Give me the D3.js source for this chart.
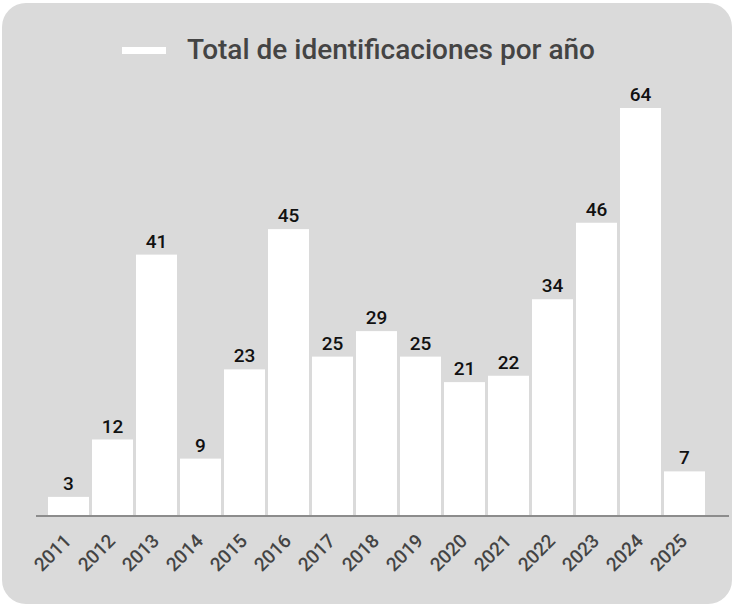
<!DOCTYPE html>
<html>
<head>
<meta charset="utf-8">
<script src="https://cdn.jsdelivr.net/npm/d3@7"></script>
<style>
  body { margin: 0; background: #ffffff; }
  text { font-family: Roboto, "Noto Sans", sans-serif; }
</style>
</head>
<body>
<div class="content"></div>
<script>
// data
var years = ["2011", "2012", "2013", "2014", "2015", "2016", "2017", "2018",
             "2019", "2020", "2021", "2022", "2023", "2024", "2025"];
var counts = [3, 12, 41, 9, 23, 45, 25, 29, 25, 21, 22, 34, 46, 64, 7];
var seriesName = "Total de identificaciones por año";

var width = 733, height = 604;

var svg = d3.select(".content")
    .append("svg")
    .attr("width", width)
    .attr("height", height);

// card background
svg.append("rect")
    .attr("x", 2)
    .attr("y", 3)
    .attr("width", 730)
    .attr("height", 601)
    .attr("rx", 24)
    .attr("fill", "#dadada");

var data = years.map(function (d, i) { return {year: d, count: counts[i]}; });

// scales
var x = d3.scaleBand()
    .domain(years)
    .range([46.5, 706.5])
    .paddingInner(3 / 44)
    .paddingOuter(3 / 88);

var y = d3.scaleLinear()
    .domain([0, 64])
    .range([516, 108]);

// bars
svg.selectAll(".bar")
    .data(data)
    .enter()
    .append("rect")
    .attr("class", "bar")
    .attr("x", function (d) { return x(d.year); })
    .attr("y", function (d) { return y(d.count); })
    .attr("width", x.bandwidth())
    .attr("height", function (d) { return y(0) - y(d.count); })
    .attr("fill", "#ffffff");

// value labels
svg.selectAll(".val")
    .data(data)
    .enter()
    .append("text")
    .attr("class", "val")
    .attr("x", function (d) { return x(d.year) + x.bandwidth() / 2; })
    .attr("y", function (d) { return y(d.count) - 7; })
    .attr("text-anchor", "middle")
    .style("font-size", "19px")
    .style("font-weight", "500")
    .attr("fill", "#111111")
    .text(function (d) { return d.count; });

// x axis
var xAxis = svg.append("g")
    .attr("transform", "translate(0," + y(0) + ")")
    .call(d3.axisBottom(x).tickSize(0).tickPadding(0));

xAxis.select(".domain").remove();
xAxis.append("line")
    .attr("x1", 36)
    .attr("x2", 729)
    .attr("y1", 0)
    .attr("y2", 0)
    .attr("stroke", "#8c8c8c")
    .attr("stroke-width", 2);

xAxis.selectAll(".tick text")
    .attr("fill", "#444444")
    .style("font-size", "19px")
    .style("font-weight", "500")
    .style("font-family", "Roboto, sans-serif")
    .attr("text-anchor", "end")
    .attr("dy", null)
    .attr("transform", "translate(4,26) rotate(-45)");

// legend
svg.append("rect")
    .attr("x", 122)
    .attr("y", 47)
    .attr("width", 44)
    .attr("height", 7)
    .attr("fill", "#ffffff");

svg.append("text")
    .attr("x", 187)
    .attr("y", 59)
    .attr("fill", "#444444")
    .style("font-size", "28px")
    .style("font-weight", "500")
    .text(seriesName);
</script>
</body>
</html>
